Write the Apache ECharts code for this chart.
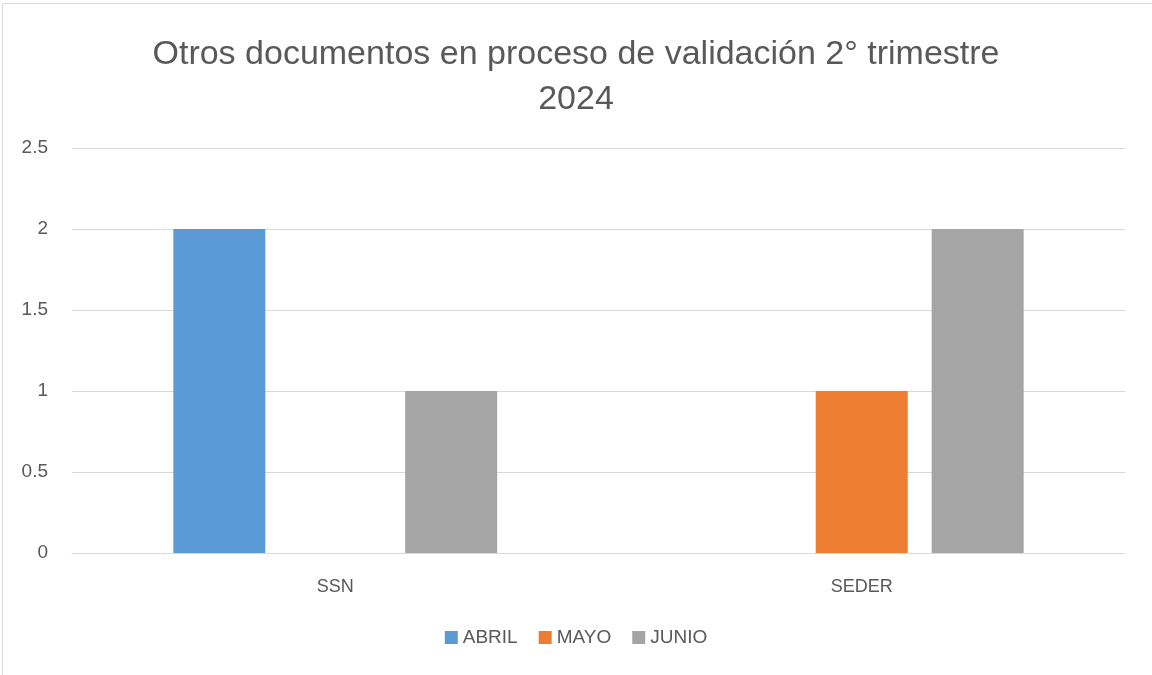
<!DOCTYPE html>
<html><head><meta charset="utf-8">
<script src="https://cdn.jsdelivr.net/npm/echarts@6/dist/echarts.min.js"></script>
<style>html,body{margin:0;padding:0;background:#fff}#c{width:1152px;height:675px}</style>
</head><body><div id="c"></div>
<script>
const categories = ['SSN', 'SEDER'];
const seriesNames = ['ABRIL', 'MAYO', 'JUNIO'];
const abril = [2, 0];
const mayo = [0, 1];
const junio = [1, 2];
const yTicks = { min: 0, max: 2.5, interval: 0.5 };
const colors = ['#5B9BD5', '#ED7D31', '#A5A5A5'];
const FONT = '"Liberation Sans", "Open Sans", sans-serif';

const chart = echarts.init(document.getElementById('c'), null, { renderer: 'canvas' });
const values = [abril, mayo, junio];
chart.setOption({
  animation: false,
  backgroundColor: '#fff',
  graphic: [{ type: 'rect', shape: { x: 2.5, y: 3.5, width: 1160, height: 680 }, style: { fill: 'none', stroke: '#D9D9D9', lineWidth: 1 }, silent: true }],
  title: {
    text: 'Otros documentos en proceso de validación 2° trimestre\n2024',
    left: 'center', top: 27,
    textStyle: { fontFamily: FONT, fontSize: 34, fontWeight: 'normal', color: '#595959', lineHeight: 45 }
  },
  legend: {
    data: seriesNames, bottom: 23, left: 'center', itemWidth: 13, itemHeight: 13, itemGap: 21,
    icon: 'rect',
    textStyle: { fontFamily: FONT, fontSize: 19, color: '#595959' }
  },
  grid: { left: 72, right: 27, top: 148, bottom: 122 },
  xAxis: {
    type: 'category', data: categories,
    axisLine: { lineStyle: { color: '#D9D9D9', width: 1 } },
    axisTick: { show: false },
    axisLabel: { fontFamily: FONT, fontSize: 18, color: '#595959', margin: 25 }
  },
  yAxis: {
    type: 'value', min: yTicks.min, max: yTicks.max, interval: yTicks.interval,
    axisLine: { show: false }, axisTick: { show: false },
    splitLine: { lineStyle: { color: '#D9D9D9', width: 1 } },
    axisLabel: { fontFamily: FONT, fontSize: 19, color: '#595959', margin: 24 }
  },
  series: seriesNames.map((n, i) => ({
    name: n, type: 'bar', data: values[i], barWidth: 92, barGap: '26%',
    itemStyle: { color: colors[i] }
  }))
});
</script></body></html>
